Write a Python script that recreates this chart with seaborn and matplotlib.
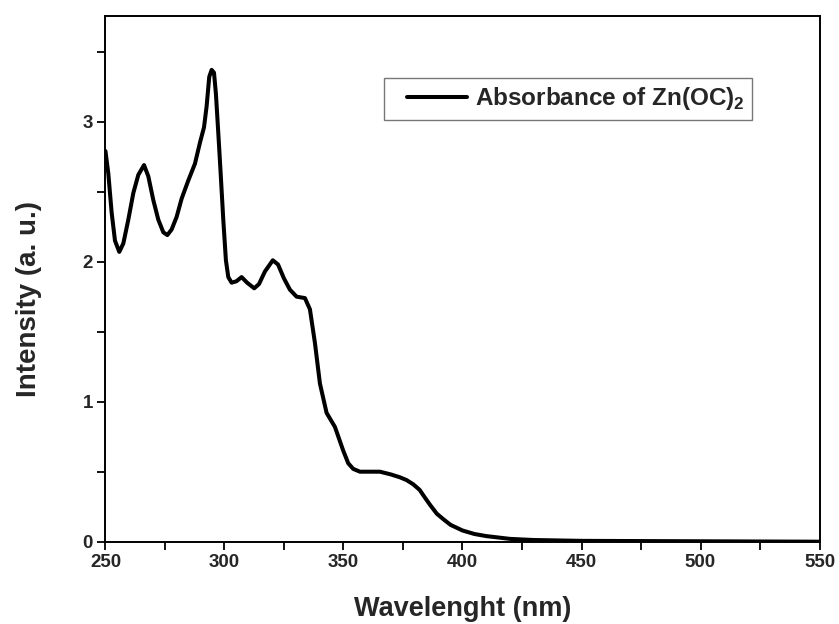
import matplotlib
matplotlib.use("Agg")
import matplotlib.pyplot as plt
import seaborn as sns
import pandas as pd
from matplotlib.ticker import MultipleLocator
from matplotlib.lines import Line2D
from matplotlib.legend_handler import HandlerLine2D

wavelength = [250, 251.2, 252.6, 254, 255.8, 257.5, 259.6, 261.7, 263.8, 266.2, 268, 270.1, 272.2,
              274.3, 276, 277.8, 279.9, 282, 284.8, 287.6, 289.7, 291.4, 292.5, 293.6, 294.6,
              295.6, 296.4, 297.4, 298.4, 299.5, 300.6, 301.6, 303.0, 305, 307.2, 309.5, 312.5,
              314.5, 317, 320.3, 322.5, 325, 327.5, 330.3, 333.8, 335.9, 338, 340.1, 342.9,
              346.4, 349.9, 352, 354.1, 356.9, 361, 365.3, 370, 373.7, 376.5, 379.3, 382, 384,
              386.5, 389.2, 392, 395, 400, 405, 410, 420, 430, 450, 500, 550]
intensity = [2.79, 2.63, 2.35, 2.15, 2.07, 2.13, 2.30, 2.49, 2.62, 2.69, 2.61, 2.44, 2.30, 2.21,
             2.19, 2.23, 2.32, 2.45, 2.58, 2.70, 2.85, 2.96, 3.11, 3.32, 3.37, 3.35, 3.20, 2.92,
             2.63, 2.30, 2.01, 1.89, 1.85, 1.86, 1.89, 1.85, 1.81, 1.84, 1.93, 2.01, 1.98, 1.88,
             1.80, 1.75, 1.74, 1.66, 1.42, 1.13, 0.92, 0.82, 0.65, 0.56, 0.52, 0.50, 0.50, 0.50,
             0.48, 0.46, 0.44, 0.41, 0.37, 0.32, 0.26, 0.20, 0.16, 0.12, 0.08, 0.055, 0.04, 0.02,
             0.012, 0.006, 0.003, 0.0]
series_label = r"Absorbance of Zn(OC)$_\mathbf{2}$"

sns.set_theme(style="white")
plt.rcParams['font.family'] = ['Liberation Sans', 'DejaVu Sans']
plt.rcParams['font.weight'] = 'bold'
plt.rcParams['mathtext.fontset'] = 'custom'
plt.rcParams['mathtext.bf'] = 'Liberation Sans:bold'
plt.rcParams['mathtext.rm'] = 'Liberation Sans:bold'

df = pd.DataFrame({"Wavelength": wavelength, "Intensity": intensity})

fig = plt.figure(figsize=(8.39, 6.24), dpi=100)
ax = fig.add_axes([0.1257, 0.1319, 0.8511, 0.8425])
sns.lineplot(data=df, x="Wavelength", y="Intensity", ax=ax, color="black",
             linewidth=2.9, label=series_label)
for ln in ax.get_lines():
    ln.set_solid_joinstyle('round')
    ln.set_solid_capstyle('round')

ax.set_xlim(250, 550)
ax.set_ylim(0, 3.755)
ax.xaxis.set_major_locator(MultipleLocator(50))
ax.xaxis.set_minor_locator(MultipleLocator(25))
ax.yaxis.set_major_locator(MultipleLocator(1))
ax.yaxis.set_minor_locator(MultipleLocator(0.5))
ax.tick_params(axis='both', which='both', direction='out', length=6, width=1.3,
               color='black', bottom=True, left=True, top=False, right=False)
ax.tick_params(axis='both', which='major', labelsize=13.5, pad=3)
for lab in ax.get_xticklabels() + ax.get_yticklabels():
    lab.set_fontweight('bold')

for s in ax.spines.values():
    s.set_color('black')
    s.set_linewidth(1.4)

ax.set_xlabel("Wavelenght (nm)", fontsize=19.5, fontweight='bold', labelpad=18)
ax.set_ylabel("Intensity (a. u.)", fontsize=20, fontweight='bold')
ax.yaxis.set_label_coords(-0.0889, 0.4617)

leg = ax.legend(loc='upper left', bbox_to_anchor=(0.39, 0.882), borderaxespad=0,
                frameon=True, fancybox=False, handlelength=3.1,
                handletextpad=0.35, borderpad=0.3, prop={'weight': 'bold', 'size': 17.5},
                handler_map={Line2D: HandlerLine2D(xpad=0.65)})
leg.get_frame().set_edgecolor('#555555')
leg.get_frame().set_linewidth(1.0)

fig.savefig("out.png", dpi=100)
